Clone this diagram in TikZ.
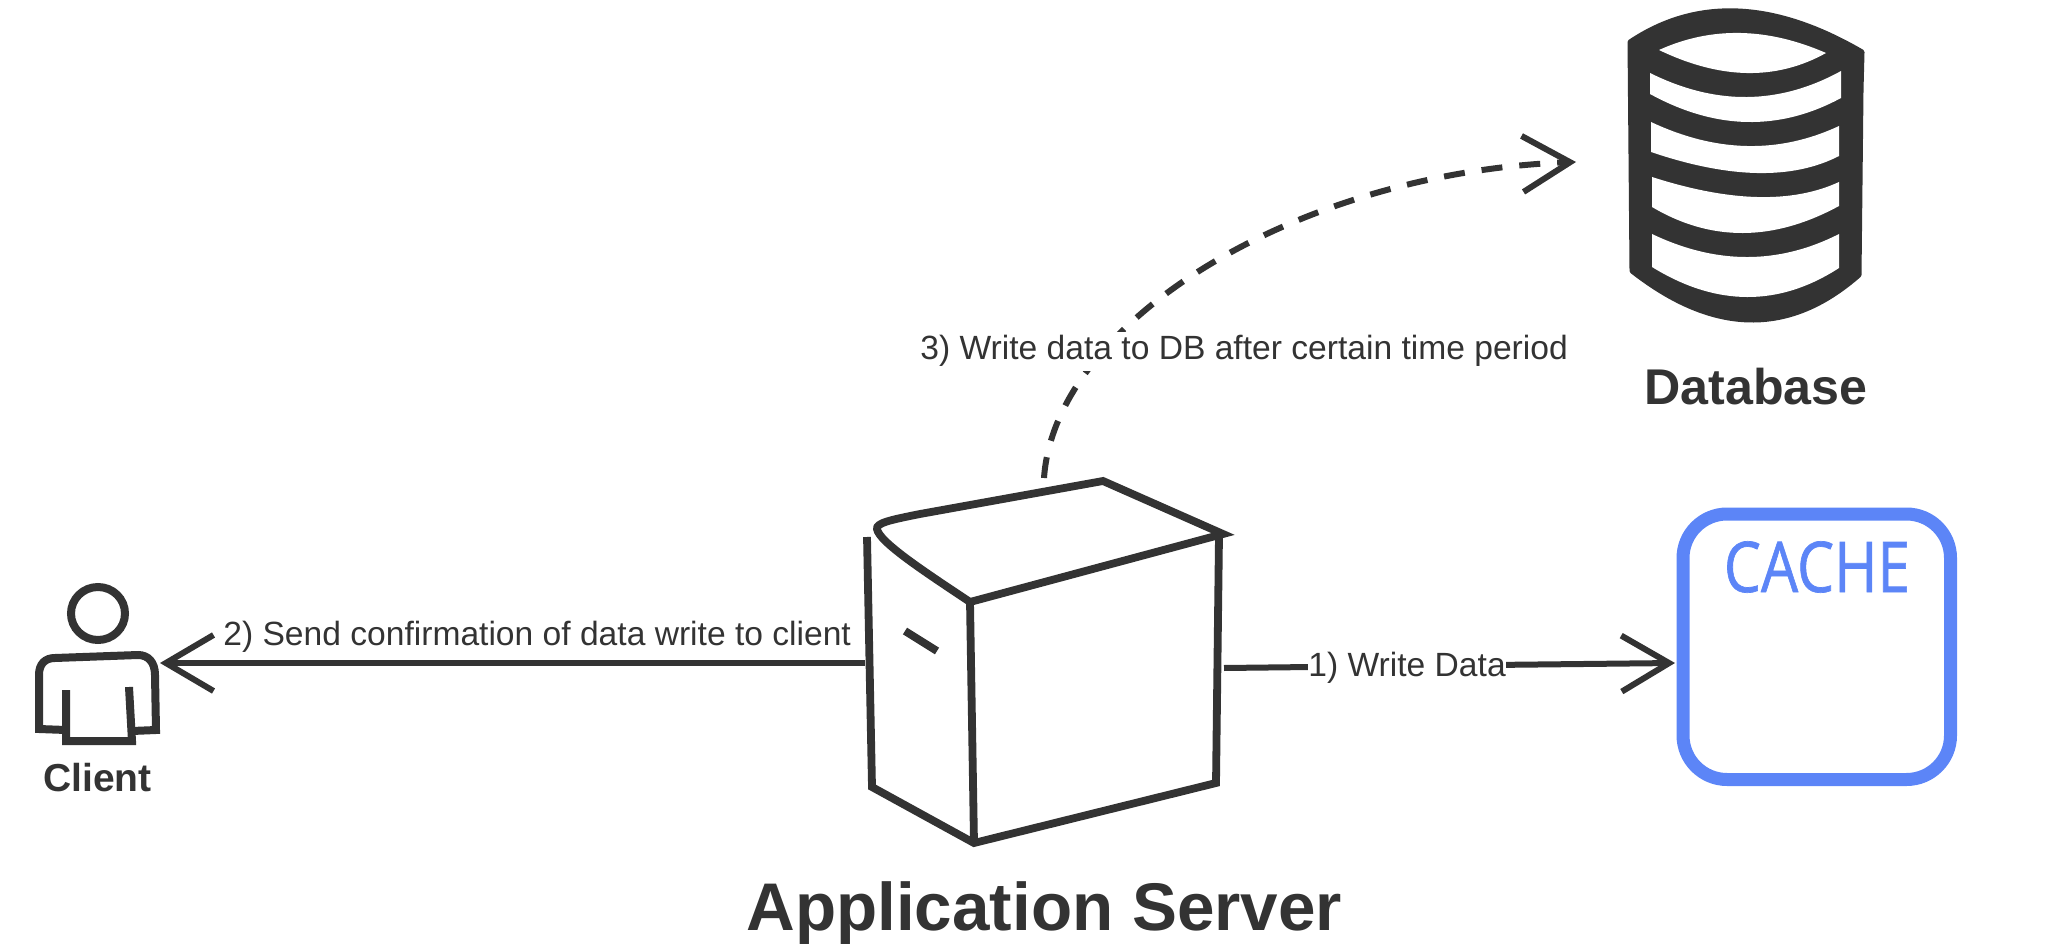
\documentclass[tikz,border=0pt]{standalone}
\usepackage{fontspec}
\usepackage{graphicx}
\setmainfont{Liberation Sans}
\newfontfamily\cachefont[FakeBold=1]{Open Sans}
\usetikzlibrary{arrows.meta}
\definecolor{ink}{HTML}{333333}
\definecolor{cacheblue}{HTML}{5C85F7}
\tikzset{
  lbl/.style={font=\fontsize{16.8pt}{20pt}\selectfont,text=ink,inner sep=0pt,anchor=base west},
  lblmask/.style={lbl,fill=white,inner ysep=2pt},
  ttl/.style={font=\bfseries,text=ink,inner sep=0pt,anchor=base west},
  sketch/.style={draw=ink,line width=3.9pt,line join=miter},
  conn/.style={draw=ink,line width=3pt,-{Straight Barb[length=23.8pt,width=28pt,line width=3pt]}},
}
\begin{document}
\begin{tikzpicture}[x=0.5pt,y=-0.5pt]
\useasboundingbox (0,0) rectangle (2060,946);
% database
\fill[ink,draw=ink,line width=2.5pt,line join=round] (1630,42) .. controls (1696.7,-2.7) and (1774,0.7) .. (1862,52) -- (1861,90) -- (1859,275) .. controls (1789.3,336.3) and (1713.7,335) .. (1632,271) -- cycle;
\fill[white] (1659,50) .. controls (1711.3,26.3) and (1767,27.3) .. (1826,53) .. controls (1776.3,80.7) and (1720.7,79.7) .. (1659,50) -- cycle;
\fill[white] (1650,73) .. controls (1715.7,105.7) and (1779.3,105) .. (1841,71) -- (1841,98) .. controls (1779.3,131.3) and (1715.7,130) .. (1650,94) -- cycle;
\fill[white] (1651,122) .. controls (1716.3,152.7) and (1779,154) .. (1839,126) -- (1839,156) .. controls (1792.3,180) and (1729.7,178.7) .. (1651,152) -- cycle;
\fill[white] (1652,177) .. controls (1729.7,202) and (1792,203.7) .. (1839,182) -- (1839,206) .. controls (1773.3,241.7) and (1711,242) .. (1652,207) -- cycle;
\fill[white] (1652,234) .. controls (1716.3,264.7) and (1778.7,264.7) .. (1839,234) -- (1839,268) .. controls (1778.7,307) and (1716.3,306.7) .. (1652,267) -- cycle;
\node[ttl,font=\fontsize{25.1pt}{30pt}\selectfont\bfseries] (dbtitle) at (1644,405) {Database};
% cache
\node[draw=cacheblue,line width=6.5pt,rounded corners=22pt,minimum width=133.75pt,minimum height=132.75pt,inner sep=0pt,outer sep=0pt,anchor=north west] (cachebox) at (1683,514) {};
\node[inner sep=0pt,anchor=base,text=cacheblue] (cachetext) at (1817,592) {\cachefont\fontsize{35pt}{40pt}\selectfont\scalebox{0.84}[1]{CACHE}};
% client
\draw[draw=ink,line width=4pt] (98,613.5) ellipse [x radius=27,y radius=26.5];
\draw[sketch,line width=4pt] (66,690) -- (66,741) -- (132,741) -- (129,687);
\draw[sketch,line width=4pt] (66,730) -- (39,729) -- (39,675) .. controls (39,664) and (45,658) .. (55,658) -- (138,655) .. controls (148,655) and (155,662) .. (155,675) -- (156,730) -- (132,731);
\node[ttl,font=\fontsize{19.5pt}{23pt}\selectfont\bfseries] (clienttitle) at (43,791) {Client};
\coordinate (clienttip) at (160,663);
% server
\draw[sketch] (1103,481) -- (920,514) .. controls (890,520) and (876,523) .. (877,529) .. controls (879,542) and (925,572) .. (970,602) -- (1223,534) -- cycle;
\draw[sketch] (970,602) -- (974,843);
\draw[sketch] (1219,535) -- (1216,783) -- (974,843) -- (872,787) -- (867,537);
\draw[sketch] (905,631) -- (937,651);
\node[ttl,font=\fontsize{33.7pt}{40pt}\selectfont\bfseries] (srvtitle) at (746,930) {Application Server};
\coordinate (srvL) at (865,663);
\coordinate (srvR) at (1224,668);
\coordinate (srvT) at (1044,478);
% targets
\coordinate (cachetip) at (1675,663);
\coordinate (dbtip) at (1576,162);
% connectors
\draw[conn] (srvL) -- (clienttip);
\draw[conn] (srvR) -- (1400,666) -- (cachetip);
\draw[conn,dash pattern=on 10.5pt off 8.5pt] (srvT) .. controls (1055,320) and (1300,172) .. (dbtip);
% labels
\node[lbl] (lab2) at (223,645) {2) Send confirmation of data write to client};
\node[lblmask] (lab1) at (1308,676) {1) Write Data};
\node[lblmask] (lab3) at (920,360) {3) Write data to DB after certain time period};
\end{tikzpicture}
\end{document}
